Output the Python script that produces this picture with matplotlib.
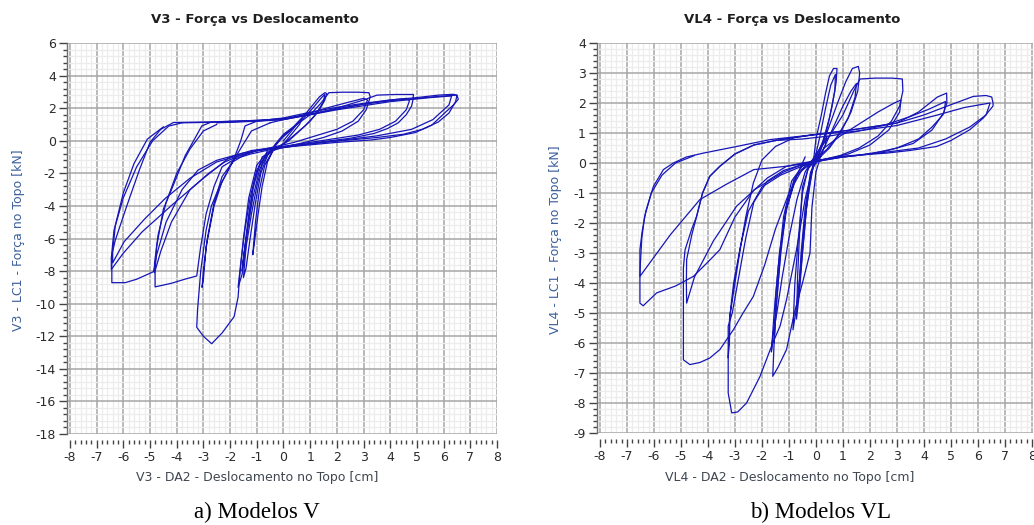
import matplotlib
matplotlib.use('Agg')
import matplotlib.pyplot as plt
from matplotlib.ticker import MultipleLocator

plt.rcParams['axes.unicode_minus'] = False
plt.rcParams['font.family'] = ['DejaVu Sans']

# ---------------- V3 data (displacement cm, force kN) ----------------
V3_C1_X = [0.0, 0.3, 0.55, 0.7, 0.6, 0.3, 0.0, -0.4, -0.7, -0.9, -1.05, -1.15, -1.1, -0.95, -0.8, -0.6, -0.3, 0.0]
V3_C1_F = [0.0, 0.6, 1.1, 1.35, 1.0, 0.4, -0.2, -0.6, -1.5, -3.0, -5.0, -7.0, -6.4, -4.5, -2.8, -1.3, -0.3, 0.3]

V3_C2_X = [0.0, 0.4, 0.8, 1.1, 1.35, 1.55, 1.62, 1.55, 1.35, 1.0, 0.6, 0.2, -0.3, -0.7, -1.0, -1.25, -1.45, -1.6, -1.7, -1.55, -1.4, -1.2, -1.0, -0.8, -0.5, -0.1, 0.3]
V3_C2_F = [0.3, 0.9, 1.6, 2.2, 2.7, 2.95, 2.9, 2.5, 1.9, 1.2, 0.6, 0.0, -0.5, -1.0, -1.8, -3.5, -5.5, -7.5, -9.0, -8.2, -6.5, -4.5, -2.8, -1.5, -0.6, 0.1, 0.7]

V3_C3_X = [0.3, 0.7, 1.1, 1.4, 1.55, 1.5, 1.2, 0.8, 0.3, -0.2, -0.6, -0.9, -1.15, -1.35, -1.5, -1.4, -1.25, -1.05, -0.85, -0.6, -0.3]
V3_C3_F = [0.7, 1.3, 2.0, 2.6, 2.85, 2.4, 1.6, 0.9, 0.2, -0.4, -0.8, -1.5, -3.0, -5.5, -8.4, -7.8, -6.0, -3.8, -2.0, -0.9, -0.2]

V3_C4_X = [-0.3, 0.0, 0.5, 1.0, 1.4, 1.7, 2.2, 2.8, 3.2, 3.25, 3.1, 2.8, 2.2, 1.5, 0.8, 0.0, -0.6, -1.0, -1.3, -1.5, -1.65, -1.7, -1.85, -2.3, -2.69, -3.0, -3.25, -3.22, -3.1, -2.9, -2.7, -2.43, -2.1, -1.81, -1.6, -1.44, -1.0, -0.5]
V3_C4_F = [-0.2, 0.4, 1.0, 1.6, 2.3, 2.95, 2.98, 2.98, 2.95, 2.7, 1.9, 1.2, 0.6, 0.2, -0.1, -0.4, -0.7, -1.5, -3.5, -6.0, -8.5, -9.6, -10.8, -11.8, -12.46, -12.0, -11.45, -10.4, -8.0, -5.5, -4.0, -2.94, -1.9, -0.91, 0.0, 0.91, 1.2, 1.25]

V3_C5_X = [-0.5, 0.0, 0.8, 1.6, 2.4, 3.0, 3.15, 3.0, 2.6, 2.0, 1.2, 0.4, -0.4, -1.0, -1.5, -1.9, -2.3, -2.6, -2.85, -3.0, -3.05, -3.0, -2.9, -2.6, -2.3, -1.8, -1.2, -0.5]
V3_C5_F = [1.25, 1.3, 1.6, 2.0, 2.35, 2.6, 2.5, 1.9, 1.2, 0.7, 0.3, -0.1, -0.4, -0.6, -0.9, -1.3, -2.2, -3.8, -6.0, -8.0, -9.0, -8.5, -6.5, -4.0, -2.5, -1.0, 0.6, 1.1]

V3_C6_X = [-0.5, 0.0, 1.0, 2.0, 3.0, 3.5, 4.2, 4.87, 4.85, 4.8, 4.6, 4.3, 3.9, 3.4, 2.5, 1.5, 0.5, -0.5, -1.2, -1.8, -2.3, -2.6, -2.9, -3.1, -3.25, -3.7, -4.2, -4.81, -4.81, -4.75, -4.5, -4.18, -3.68, -3.3, -3.06, -2.7, -2.0]
V3_C6_F = [1.1, 1.3, 1.6, 2.0, 2.5, 2.8, 2.84, 2.84, 2.5, 2.13, 1.6, 1.1, 0.75, 0.45, 0.15, -0.05, -0.3, -0.55, -0.8, -1.1, -1.6, -2.8, -4.5, -6.5, -8.3, -8.5, -8.75, -8.97, -8.0, -6.5, -4.2, -2.94, -0.91, 0.2, 0.91, 1.15, 1.2]

V3_C7_X = [-2.0, -1.0, 0.0, 1.0, 2.0, 3.0, 4.0, 4.6, 4.72, 4.6, 4.2, 3.6, 2.8, 1.8, 0.8, -0.2, -1.0, -1.6, -2.2, -2.8, -3.5, -4.2, -4.6, -4.83, -4.83, -4.7, -4.4, -4.0, -3.5, -3.0, -2.5]
V3_C7_F = [1.2, 1.25, 1.35, 1.6, 1.95, 2.25, 2.5, 2.6, 2.45, 1.9, 1.2, 0.7, 0.35, 0.1, -0.15, -0.4, -0.6, -0.9, -1.3, -2.0, -3.0, -5.0, -6.8, -8.1, -7.5, -5.8, -3.8, -2.0, -0.5, 0.6, 1.0]

V3_C8_X = [-2.5, -1.0, 0.0, 1.0, 2.0, 3.0, 4.0, 5.0, 5.8, 6.35, 6.5, 6.55, 6.37, 6.05, 5.55, 4.93, 4.0, 3.3, 2.0, 1.0, 0.0, -0.7, -1.5, -2.5, -3.2, -3.8, -4.4, -4.75, -4.87, -5.5, -5.93, -6.43, -6.43, -6.3, -5.87, -5.4, -5.0, -4.6, -4.12, -3.0, -2.0]
V3_C8_F = [1.1, 1.2, 1.4, 1.75, 2.05, 2.3, 2.5, 2.65, 2.8, 2.85, 2.8, 2.55, 2.2, 1.72, 0.95, 0.5, 0.2, 0.05, -0.1, -0.25, -0.4, -0.55, -0.75, -1.2, -1.8, -3.0, -5.0, -7.0, -8.04, -8.5, -8.71, -8.71, -7.0, -6.1, -4.0, -1.8, -0.1, 0.7, 1.12, 1.15, 1.18]

V3_C9_X = [-2.0, -1.0, 0.0, 1.0, 2.0, 3.0, 4.0, 5.0, 6.0, 6.5, 6.45, 6.2, 5.8, 5.2, 4.5, 3.5, 2.5, 1.5, 0.5, -0.5, -1.2, -2.0, -3.0, -4.18, -5.3, -6.0, -6.45, -6.45, -6.35, -6.0, -5.5, -4.9, -4.3, -3.8]
V3_C9_F = [1.18, 1.25, 1.35, 1.65, 1.95, 2.25, 2.45, 2.6, 2.75, 2.8, 2.4, 1.7, 1.15, 0.7, 0.4, 0.2, 0.05, -0.1, -0.25, -0.45, -0.6, -1.0, -2.3, -3.95, -5.6, -6.9, -7.9, -7.2, -5.5, -3.5, -1.6, 0.0, 0.9, 1.1]

V3_C10_X = [-3.8, -2.0, 0.0, 2.0, 4.0, 5.5, 6.3, 6.2, 5.6, 4.8, 3.5, 2.0, 0.5, -1.0, -2.5, -3.5, -4.43, -5.2, -5.97, -6.4, -6.4, -6.3, -6.0, -5.6, -5.1, -4.5]
V3_C10_F = [1.1, 1.15, 1.3, 1.9, 2.4, 2.65, 2.75, 2.2, 1.3, 0.7, 0.3, 0.0, -0.3, -0.6, -1.3, -2.3, -3.54, -4.8, -6.2, -7.5, -6.8, -5.2, -3.2, -1.4, 0.1, 0.85]

V3_C11_X = [-0.3, -0.8, -1.1, -1.3, -1.45, -1.55, -1.5, -1.35, -1.15, -0.9, -0.6]
V3_C11_F = [-0.5, -1.0, -2.5, -4.5, -6.5, -8.0, -7.2, -5.5, -3.5, -1.8, -0.6]

# ---------------- VL4 data ----------------
VL4_C1_X = [0.0, 0.2, 0.4, 0.35, 0.1, -0.2, -0.4, -0.55, -0.65, -0.6, -0.45, -0.3, -0.1]
VL4_C1_F = [0.0, 0.5, 0.9, 0.6, 0.15, -0.3, -1.5, -3.0, -4.5, -4.0, -2.5, -1.0, 0.0]

VL4_C2_X = [-0.1, 0.0, 0.2, 0.35, 0.5, 0.65, 0.78, 0.75, 0.6, 0.4, 0.2, 0.0, -0.3, -0.5, -0.65, -0.78, -0.85, -0.75, -0.6, -0.45, -0.25, -0.05]
VL4_C2_F = [0.0, 0.8, 1.6, 2.3, 2.9, 3.15, 3.15, 2.7, 1.9, 1.1, 0.5, 0.1, -0.2, -1.0, -2.5, -4.0, -5.56, -5.0, -3.8, -2.2, -0.8, 0.1]

VL4_C3_X = [-0.05, 0.15, 0.35, 0.55, 0.72, 0.7, 0.5, 0.25, 0.0, -0.25, -0.5, -0.6, -0.68, -0.72, -0.62, -0.5, -0.35, -0.15, 0.05]
VL4_C3_F = [0.1, 0.9, 1.8, 2.6, 2.95, 2.4, 1.5, 0.7, 0.2, -0.1, -0.8, -2.2, -3.8, -5.2, -4.4, -3.0, -1.5, -0.3, 0.3]

VL4_C4_X = [0.05, 0.4, 0.8, 1.1, 1.35, 1.57, 1.62, 1.55, 1.3, 0.9, 0.5, 0.1, -0.4, -0.8, -1.1, -1.3, -1.45, -1.55, -1.6, -1.4, -1.09, -0.8, -0.5, -0.22, -0.15, 0.0, 0.2]
VL4_C4_F = [0.3, 1.0, 2.0, 2.7, 3.15, 3.22, 3.0, 2.4, 1.7, 1.0, 0.5, 0.15, -0.1, -0.5, -1.5, -3.0, -4.5, -6.0, -7.11, -6.8, -6.22, -5.0, -4.0, -3.0, -1.5, -0.3, 0.3]

VL4_C5_X = [0.2, 0.6, 1.0, 1.3, 1.5, 1.45, 1.2, 0.8, 0.4, 0.0, -0.5, -0.9, -1.2, -1.4, -1.55, -1.65, -1.6, -1.45, -1.25, -1.0, -0.7, -0.4, 0.0]
VL4_C5_F = [0.3, 1.1, 1.9, 2.4, 2.65, 2.2, 1.5, 0.9, 0.45, 0.15, -0.1, -0.6, -1.8, -3.5, -5.0, -6.3, -5.8, -5.0, -3.8, -2.5, -1.2, -0.3, 0.3]

VL4_C6_X = [0.0, 0.5, 1.0, 1.4, 1.63, 2.2, 2.8, 3.2, 3.22, 3.1, 2.8, 2.3, 1.6, 0.9, 0.2, -0.5, -1.2, -1.8, -2.3, -2.6, -2.9, -3.1, -3.25, -3.25, -3.25, -3.12, -2.9, -2.57, -2.07, -1.6, -1.33, -1.09, -0.72, -0.4, -0.1, 0.3]
VL4_C6_F = [0.3, 0.9, 1.6, 2.4, 2.8, 2.83, 2.83, 2.8, 2.4, 1.9, 1.4, 0.9, 0.5, 0.25, 0.1, -0.05, -0.25, -0.6, -1.3, -2.5, -4.0, -5.0, -5.44, -6.5, -7.67, -8.33, -8.3, -8.0, -7.11, -6.0, -5.44, -4.56, -2.89, -1.2, -0.1, 0.5]

VL4_C7_X = [0.3, 0.9, 1.6, 2.3, 2.9, 3.15, 3.1, 2.7, 2.0, 1.2, 0.3, -0.5, -1.3, -2.0, -2.5, -2.8, -3.05, -3.2, -3.25, -3.2, -3.19, -3.0, -2.81, -2.6, -2.32, -2.0, -1.5, -0.8]
VL4_C7_F = [0.5, 0.9, 1.3, 1.7, 2.0, 2.1, 1.7, 1.1, 0.6, 0.3, 0.1, -0.1, -0.4, -0.8, -1.6, -2.8, -4.0, -5.2, -6.5, -5.8, -5.11, -4.0, -2.89, -1.8, -0.67, 0.1, 0.55, 0.85]

VL4_C8_X = [-0.8, -0.1, 1.38, 2.99, 3.8, 4.5, 4.84, 4.85, 4.7, 4.3, 3.8, 3.0, 2.0, 1.0, 0.0, -0.5, -1.0, -1.5, -1.9, -2.32, -2.7, -3.06, -3.56, -3.93, -4.3, -4.67, -4.91, -4.91, -4.91, -4.85, -4.6, -4.42, -4.2, -3.93, -3.56, -3.0, -2.3, -1.5]
VL4_C8_F = [0.85, 0.94, 1.11, 1.33, 1.7, 2.2, 2.33, 2.0, 1.6, 1.2, 0.8, 0.5, 0.3, 0.2, 0.05, -0.2, -1.0, -2.2, -3.4, -4.45, -5.0, -5.56, -6.22, -6.5, -6.65, -6.72, -6.56, -5.0, -3.5, -2.9, -2.2, -1.78, -1.0, -0.44, -0.11, 0.3, 0.6, 0.75]

VL4_C9_X = [-1.5, -0.5, 0.5, 1.5, 2.5, 3.5, 4.2, 4.8, 4.75, 4.3, 3.6, 2.6, 1.5, 0.5, -0.5, -1.09, -1.8, -2.94, -3.8, -4.5, -4.79, -4.8, -4.79, -4.6, -4.42, -4.2, -3.93, -3.56, -3.0, -2.3, -1.5]
VL4_C9_F = [0.75, 0.8, 0.9, 1.05, 1.25, 1.55, 1.8, 2.05, 1.7, 1.1, 0.65, 0.4, 0.25, 0.15, 0.0, -0.11, -0.5, -1.44, -2.6, -3.8, -4.67, -4.0, -3.22, -2.4, -1.78, -1.0, -0.44, -0.11, 0.3, 0.6, 0.75]

VL4_C10_X = [-1.5, -0.1, 1.38, 2.99, 4.0, 4.84, 5.83, 6.3, 6.51, 6.56, 6.56, 6.2, 5.7, 5.0, 4.47, 3.5, 2.62, 1.5, 0.89, 0.15, -0.5, -1.2, -2.3, -3.0, -3.56, -4.0, -4.54, -5.2, -5.9, -6.4, -6.52, -6.52, -6.52, -6.44, -6.3, -6.02, -5.65, -5.28, -4.8, -4.17, -2.94, -1.7, -0.1]
VL4_C10_F = [0.75, 0.94, 1.11, 1.33, 1.6, 1.89, 2.22, 2.25, 2.2, 2.0, 1.9, 1.5, 1.11, 0.75, 0.55, 0.42, 0.33, 0.26, 0.22, 0.1, -0.05, -0.3, -0.9, -1.8, -2.89, -3.3, -3.78, -4.1, -4.33, -4.76, -4.67, -3.8, -2.89, -2.3, -1.6, -0.78, -0.22, 0.0, 0.2, 0.33, 0.55, 0.78, 0.94]

VL4_C11_X = [-0.1, 1.4, 3.0, 4.5, 5.5, 6.45, 6.3, 5.7, 4.8, 3.8, 2.5, 1.0, 0.0, -1.0, -2.3, -3.3, -4.3, -5.4, -6.52, -6.5, -6.45, -6.35, -6.1, -5.7, -5.2, -4.5]
VL4_C11_F = [0.94, 1.05, 1.25, 1.6, 1.85, 2.0, 1.6, 1.2, 0.8, 0.5, 0.35, 0.2, 0.05, -0.1, -0.22, -0.7, -1.22, -2.4, -3.78, -3.3, -2.5, -1.8, -1.0, -0.4, 0.0, 0.25]

VL4_C12_X = [-0.2, -0.7, -1.1, -1.35, -1.5, -1.55, -1.5, -1.4, -1.3, -1.1, -0.8, -0.4]
VL4_C12_F = [0.0, -0.4, -1.5, -3.0, -4.5, -6.0, -5.2, -4.0, -2.8, -1.6, -0.6, 0.2]

V3_CYCLES = [(V3_C1_X, V3_C1_F), (V3_C2_X, V3_C2_F), (V3_C3_X, V3_C3_F), (V3_C4_X, V3_C4_F),
             (V3_C5_X, V3_C5_F), (V3_C6_X, V3_C6_F), (V3_C7_X, V3_C7_F), (V3_C8_X, V3_C8_F),
             (V3_C9_X, V3_C9_F), (V3_C10_X, V3_C10_F), (V3_C11_X, V3_C11_F)]
VL4_CYCLES = [(VL4_C1_X, VL4_C1_F), (VL4_C2_X, VL4_C2_F), (VL4_C3_X, VL4_C3_F), (VL4_C4_X, VL4_C4_F),
              (VL4_C5_X, VL4_C5_F), (VL4_C6_X, VL4_C6_F), (VL4_C7_X, VL4_C7_F), (VL4_C8_X, VL4_C8_F),
              (VL4_C9_X, VL4_C9_F), (VL4_C10_X, VL4_C10_F), (VL4_C11_X, VL4_C11_F), (VL4_C12_X, VL4_C12_F)]

LINE_COLOR = '#1616b8'
W, H = 1034, 525

fig = plt.figure(figsize=(W / 100, H / 100), dpi=100)
ax1 = fig.add_axes([67 / W, 1 - 434 / H, (497 - 67) / W, (434 - 43) / H])
ax2 = fig.add_axes([597 / W, 1 - 433 / H, (1033 - 597) / W, (433 - 43) / H])


def style(ax, xlim, ylim, ymaj, ymin):
    ax.set_xlim(*xlim)
    ax.set_ylim(*ylim)
    ax.xaxis.set_major_locator(MultipleLocator(1))
    ax.xaxis.set_minor_locator(MultipleLocator(0.2))
    ax.yaxis.set_major_locator(MultipleLocator(ymaj))
    ax.yaxis.set_minor_locator(MultipleLocator(ymin))
    ax.set_axisbelow(True)
    ax.grid(which='minor', color='#ececec', lw=0.9)
    ax.grid(which='major', color='#a6a6a6', lw=1.1)
    for s in ('top', 'right'):
        ax.spines[s].set_visible(False)
    ax.spines['bottom'].set_position(('outward', 4))
    ax.spines['bottom'].set_visible(False)
    ax.spines['left'].set_color('#707070')
    ax.spines['left'].set_linewidth(1.0)
    ax.tick_params(which='major', length=6, width=1.0, color='#444444',
                   labelsize=9, labelcolor='#2a2a2a', pad=2)
    ax.tick_params(which='minor', length=3, width=1.0, color='#444444')


style(ax1, (-8.11, 8.0), (-18, 6), 2, 0.4)
style(ax2, (-8.11, 8.04), (-9, 4), 1, 0.2)

for xs, fs in V3_CYCLES:
    ax1.plot(xs, fs, color=LINE_COLOR, lw=0.9, solid_joinstyle='round')
for xs, fs in VL4_CYCLES:
    ax2.plot(xs, fs, color=LINE_COLOR, lw=0.9, solid_joinstyle='round')

# titles
fig.text(255 / W, 1 - 20 / H, 'V3 - Força vs Deslocamento', ha='center', va='center',
         fontsize=9.5, fontweight='bold', color='#1e1e1e')
fig.text(792 / W, 1 - 20 / H, 'VL4 - Força vs Deslocamento', ha='center', va='center',
         fontsize=9.5, fontweight='bold', color='#1e1e1e')

# axis labels
fig.text(257 / W, 1 - 477 / H, 'V3 - DA2 - Deslocamento no Topo [cm]', ha='center', va='center',
         fontsize=9, color='#3f4650')
fig.text(790 / W, 1 - 477 / H, 'VL4 - DA2 - Deslocamento no Topo [cm]', ha='center', va='center',
         fontsize=9, color='#3f4650')
fig.text(19 / W, 1 - 240 / H, 'V3 - LC1 - Força no Topo [kN]', ha='center', va='center',
         rotation=90, fontsize=9, color='#3d5f9c')
fig.text(555 / W, 1 - 240 / H, 'VL4 - LC1 - Força no Topo [kN]', ha='center', va='center',
         rotation=90, fontsize=9, color='#3d5f9c')

# captions
fig.text(257 / W, 1 - 512 / H, 'a) Modelos V', ha='center', va='center',
         fontsize=16.5, family='Liberation Serif', color='black')
fig.text(821 / W, 1 - 512 / H, 'b) Modelos VL', ha='center', va='center',
         fontsize=16.5, family='Liberation Serif', color='black')

fig.savefig('out.png', dpi=100, facecolor='white')
